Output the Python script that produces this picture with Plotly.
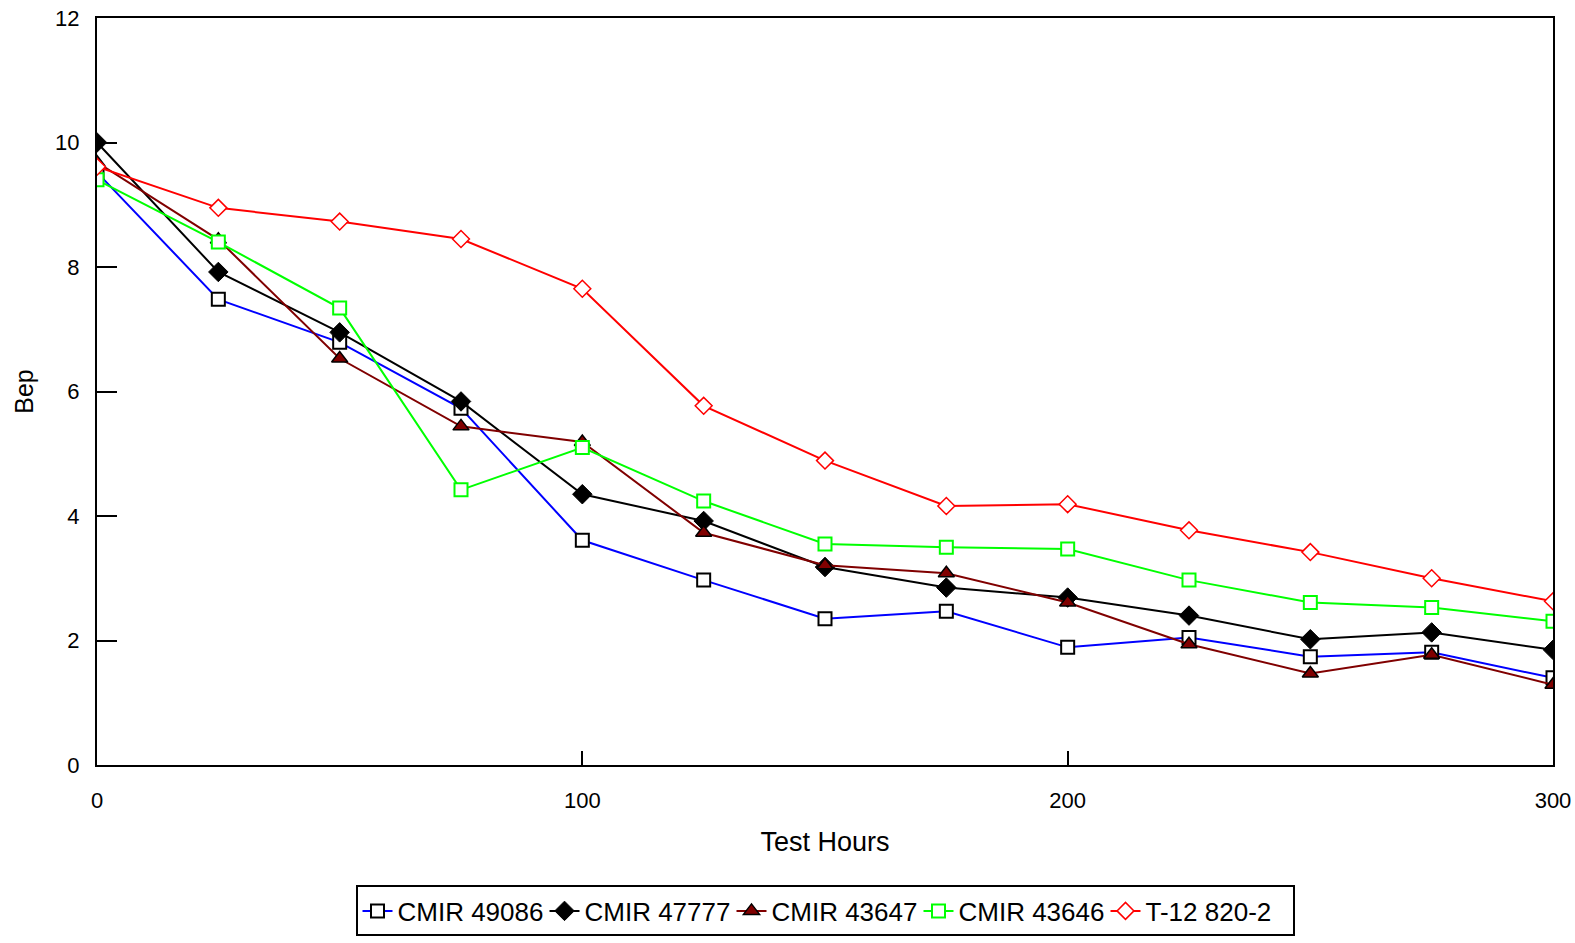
import plotly.graph_objects as go

hours = [0, 25, 50, 75, 100, 125, 150, 175, 200, 225, 250, 275, 300]

cmir_49086 = [9.52, 7.48, 6.79, 5.73, 3.61, 2.97, 2.35, 2.47, 1.89, 2.05, 1.74, 1.81, 1.40]
cmir_47777 = [10.0, 7.92, 6.95, 5.84, 4.35, 3.92, 3.18, 2.85, 2.69, 2.40, 2.02, 2.13, 1.85]
cmir_43647 = [9.68, 8.44, 6.53, 5.44, 5.19, 3.73, 3.21, 3.08, 2.61, 1.94, 1.47, 1.77, 1.29]
cmir_43646 = [9.40, 8.40, 7.34, 4.42, 5.10, 4.24, 3.55, 3.50, 3.47, 2.97, 2.61, 2.53, 2.31]
t12_820_2 = [9.61, 8.95, 8.73, 8.45, 7.65, 5.77, 4.89, 4.16, 4.19, 3.77, 3.42, 3.00, 2.63]

x_ticks = [0, 100, 200, 300]
y_ticks = [0, 2, 4, 6, 8, 10, 12]

FONT = "Liberation Sans, Arial, sans-serif"

fig = go.Figure()
fig.add_trace(go.Scatter(
    x=hours, y=cmir_49086, name="CMIR 49086", mode="lines+markers",
    line=dict(color="#0000ff", width=2),
    marker=dict(symbol="square", size=13, color="white", line=dict(color="black", width=2))))
fig.add_trace(go.Scatter(
    x=hours, y=cmir_47777, name="CMIR 47777", mode="lines+markers",
    line=dict(color="black", width=2),
    marker=dict(symbol="diamond", size=15, color="black", line=dict(color="black", width=1))))
fig.add_trace(go.Scatter(
    x=hours, y=cmir_43647, name="CMIR 43647", mode="lines+markers",
    line=dict(color="#800000", width=2),
    marker=dict(symbol="triangle-up", size=14, color="#800000", line=dict(color="black", width=1.5))))
fig.add_trace(go.Scatter(
    x=hours, y=cmir_43646, name="CMIR 43646", mode="lines+markers",
    line=dict(color="#00ff00", width=2),
    marker=dict(symbol="square", size=13, color="white", line=dict(color="#00ff00", width=2))))
fig.add_trace(go.Scatter(
    x=hours, y=t12_820_2, name="T-12 820-2", mode="lines+markers",
    line=dict(color="#ff0000", width=2),
    marker=dict(symbol="diamond", size=13, color="white", line=dict(color="#ff0000", width=1.5))))

fig.update_layout(
    width=1575, height=943,
    margin=dict(l=97, r=22, t=18, b=178),
    paper_bgcolor="white", plot_bgcolor="white",
    font=dict(family=FONT, size=22, color="black"),
    showlegend=True,
    legend=dict(
        orientation="h", x=0.5, xanchor="center",
        yref="container", y=0.061, yanchor="top",
        bordercolor="black", borderwidth=2, bgcolor="white",
        font=dict(family=FONT, size=26, color="black"),
        entrywidth=142, entrywidthmode="pixels", itemwidth=30,
    ),
    xaxis=dict(
        range=[0, 300], tickvals=x_ticks, ticktext=[str(v) for v in x_ticks],
        ticks="inside", ticklen=14, tickwidth=1.5, tickcolor="black",
        showline=True, linecolor="black", linewidth=2, mirror=True,
        showgrid=False, zeroline=False, automargin=False,
        tickfont=dict(size=22), ticklabelstandoff=15,
        title=dict(text="Test Hours", font=dict(size=27), standoff=20),
    ),
    yaxis=dict(
        range=[0, 12], tickvals=y_ticks, ticktext=[str(v) for v in y_ticks],
        ticks="inside", ticklen=20, tickwidth=1.5, tickcolor="black",
        showline=True, linecolor="black", linewidth=2, mirror=True,
        showgrid=False, zeroline=False, automargin=False,
        tickfont=dict(size=22), ticklabelstandoff=11,
        title=dict(text="Bep", font=dict(size=25), standoff=14),
    ),
)

fig.write_html("out.html")
